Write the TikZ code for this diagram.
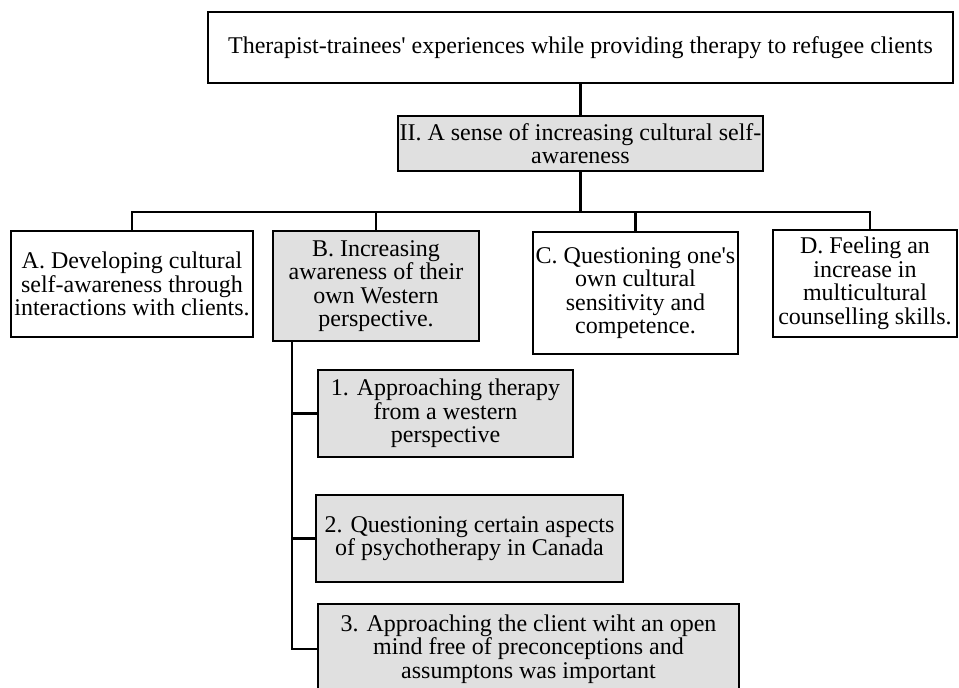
\documentclass[tikz,border=0pt]{standalone}
\usepackage{fontspec}
\setmainfont{Liberation Serif}
\usetikzlibrary{calc}
\definecolor{boxgray}{HTML}{E0E0E0}
\tikzset{
  box/.style={draw=black, line width=2.2pt, inner sep=0pt, align=center,
    font=\fontsize{24}{23.5}\selectfont},
  graybox/.style={box, fill=boxgray},
  whitebox/.style={box, fill=white},
  link/.style={line width=2.2pt, line join=miter}
}
\begin{document}
\begin{tikzpicture}[x=1pt,y=-1pt]
\useasboundingbox (0,0) rectangle (959,688);
\node[whitebox, minimum width=745pt, minimum height=71pt] (top) at (580.5,47.5)
  {Therapist-trainees\textquotesingle{} experiences while providing therapy to refugee clients};
\node[graybox, minimum width=365pt, minimum height=55pt] (II) at (580.5,143.5)
  {II. A sense of increasing cultural self-\\awareness};
\node[whitebox, minimum width=242pt, minimum height=106pt] (A) at (132,284)
  {A. Developing cultural\\self-awareness through\\interactions with clients.};
\node[graybox, minimum width=206pt, minimum height=110pt] (B) at (376,286)
  {B. Increasing\\awareness of their\\own Western\\perspective.};
\node[whitebox, minimum width=205pt, minimum height=122pt] (C) at (635.5,293)
  {C. Questioning one\textquotesingle s\\own cultural\\sensitivity and\\competence.};
\node[whitebox, minimum width=184pt, minimum height=107pt] (D) at (865,283.5)
  {D. Feeling an\\increase in\\multicultural\\counselling skills.};
\node[graybox, minimum width=255pt, minimum height=87pt] (s1) at (445.5,413.5)
  {1. Approaching therapy\\from a western\\perspective};
\node[graybox, minimum width=307pt, minimum height=87pt] (s2) at (469.5,538.5)
  {2. Questioning certain aspects\\of psychotherapy in Canada};
\node[graybox, minimum width=421pt, minimum height=90pt] (s3) at (528.5,649)
  {3. Approaching the client wiht an open\\mind free of preconceptions and\\assumptons was important};
\coordinate (bus) at (580.5,212);
\coordinate (trunk) at ($(B.south west)+(20,0)$);
\draw[link] (top.south) -- (II.north);
\draw[link] (II.south) -- (bus);
\draw[link] (A.north) |- (bus) -| ($(D.north)+(5,0)$);
\draw[link] (B.north) -- (B.north |- bus);
\draw[link] (C.north) -- (C.north |- bus);
\draw[link] (trunk) |- (s3.west);
\draw[link] (s1.west) -- (s1.west -| trunk);
\draw[link] (s2.west) -- (s2.west -| trunk);
\end{tikzpicture}
\end{document}
